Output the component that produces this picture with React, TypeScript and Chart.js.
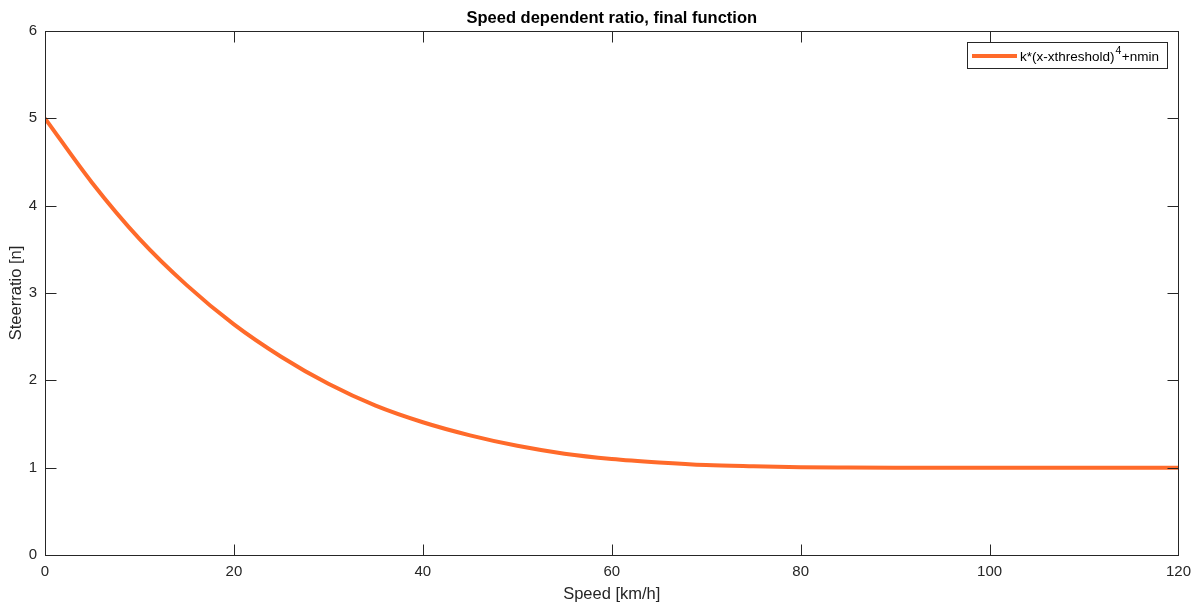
import React, { useEffect, useRef } from "react";
import { Chart, registerables } from "chart.js";

Chart.register(...registerables);

const speeds = [0, 5, 10, 15, 20, 25, 30, 35, 40, 45, 50, 55, 60, 65, 70, 75, 80, 85, 90, 95, 100, 105, 110, 115, 120];
const ratios = [5.0, 4.26, 3.62, 3.09, 2.64, 2.27, 1.96, 1.71, 1.52, 1.37, 1.25, 1.16, 1.1, 1.06, 1.03, 1.016, 1.006, 1.002, 1.0, 1.0, 1.0, 1.0, 1.0, 1.0, 1.0];
const xTicks = [0, 20, 40, 60, 80, 100, 120];
const yTicks = [0, 1, 2, 3, 4, 5, 6];
const titleText = "Speed dependent ratio, final function";
const xLabel = "Speed [km/h]";
const yLabel = "Steerratio [n]";
const legendBase = "k*(x-xthreshold)";
const legendSup = "4";
const legendTail = "+nmin";

const LINE = "#FF6A2A";
const AX = "#262626";
const FONT = "'Liberation Sans', Arial, sans-serif";

const framePlugin = {
  id: "frame",
  afterDraw(chart: any) {
    const { ctx, chartArea: a, scales } = chart;
    const xs = scales.x, ys = scales.y;
    ctx.save();
    ctx.strokeStyle = AX;
    ctx.lineWidth = 1;
    const L = Math.round(a.left) + 0.5, R = Math.round(a.right) + 0.5;
    const T = Math.round(a.top) + 0.5, B = Math.round(a.bottom) + 0.5;
    ctx.strokeRect(L, T, R - L, B - T);
    const tl = 11;
    ctx.beginPath();
    xTicks.forEach((v) => {
      const px = Math.round(xs.getPixelForValue(v)) + 0.5;
      ctx.moveTo(px, B); ctx.lineTo(px, B - tl);
      ctx.moveTo(px, T); ctx.lineTo(px, T + tl);
    });
    yTicks.forEach((v) => {
      const py = Math.round(ys.getPixelForValue(v)) + 0.5;
      ctx.moveTo(L, py); ctx.lineTo(L + tl, py);
      ctx.moveTo(R, py); ctx.lineTo(R - tl, py);
    });
    ctx.stroke();

    // title
    ctx.fillStyle = "#000";
    ctx.font = `bold 16.5px ${FONT}`;
    ctx.textAlign = "center";
    ctx.textBaseline = "middle";
    ctx.fillText(titleText, (a.left + a.right) / 2, 18);

    // axis labels
    ctx.fillStyle = AX;
    ctx.font = `16.5px ${FONT}`;
    ctx.fillText(xLabel, (a.left + a.right) / 2, 594);
    ctx.save();
    ctx.translate(16, (a.top + a.bottom) / 2);
    ctx.rotate(-Math.PI / 2);
    ctx.fillText(yLabel, 0, 0);
    ctx.restore();

    // legend
    const bx = 967.5, by = 42.5, bw = 200, bh = 26;
    ctx.fillStyle = "#fff";
    ctx.fillRect(bx, by, bw, bh);
    ctx.strokeStyle = "#262626";
    ctx.strokeRect(bx, by, bw, bh);
    ctx.strokeStyle = LINE;
    ctx.lineWidth = 4;
    ctx.beginPath();
    ctx.moveTo(972, 56);
    ctx.lineTo(1017, 56);
    ctx.stroke();
    ctx.fillStyle = "#000";
    ctx.textAlign = "left";
    ctx.textBaseline = "alphabetic";
    ctx.font = `13.5px ${FONT}`;
    let tx = 1020;
    ctx.fillText(legendBase, tx, 61);
    tx += ctx.measureText(legendBase).width + 1;
    ctx.font = `10.5px ${FONT}`;
    ctx.fillText(legendSup, tx, 54);
    tx += ctx.measureText(legendSup).width + 0.5;
    ctx.font = `13.5px ${FONT}`;
    ctx.fillText(legendTail, tx, 61);
    ctx.restore();
  },
};

export default function App() {
  const ref = useRef<HTMLCanvasElement | null>(null);
  useEffect(() => {
    if (!ref.current) return;
    const chart = new Chart(ref.current, {
      type: "line",
      data: {
        datasets: [
          {
            data: speeds.map((s, i) => ({ x: s, y: ratios[i] })),
            borderColor: LINE,
            borderWidth: 4,
            pointRadius: 0,
            cubicInterpolationMode: "monotone",
            fill: false,
          },
        ],
      },
      options: {
        animation: false,
        responsive: false,
        maintainAspectRatio: false,
        layout: { padding: { top: 31, right: 20, left: 0, bottom: 0 } },
        plugins: { legend: { display: false }, title: { display: false }, tooltip: { enabled: false } },
        scales: {
          x: {
            type: "linear",
            min: 0,
            max: 120,
            afterFit: (s: any) => { s.height = 51; },
            afterBuildTicks: (s: any) => { s.ticks = xTicks.map((v) => ({ value: v })); },
            grid: { display: false, drawTicks: false },
            border: { display: false },
            ticks: { color: AX, font: { size: 15, family: FONT }, padding: 8, maxRotation: 0, autoSkip: false },
          },
          y: {
            type: "linear",
            min: 0,
            max: 6,
            afterFit: (s: any) => { s.width = 45; },
            afterBuildTicks: (s: any) => { s.ticks = yTicks.map((v) => ({ value: v })); },
            grid: { display: false, drawTicks: false },
            border: { display: false },
            ticks: { color: AX, font: { size: 15, family: FONT }, padding: 8, autoSkip: false },
          },
        },
      },
      plugins: [framePlugin],
    } as any);
    return () => chart.destroy();
  }, []);
  return (
    <div style={{ position: "absolute", left: 0, top: 0, width: 1199, height: 606, background: "#fff" }}>
      <canvas ref={ref} width={1199} height={606} style={{ width: 1199, height: 606 }} />
    </div>
  );
}
